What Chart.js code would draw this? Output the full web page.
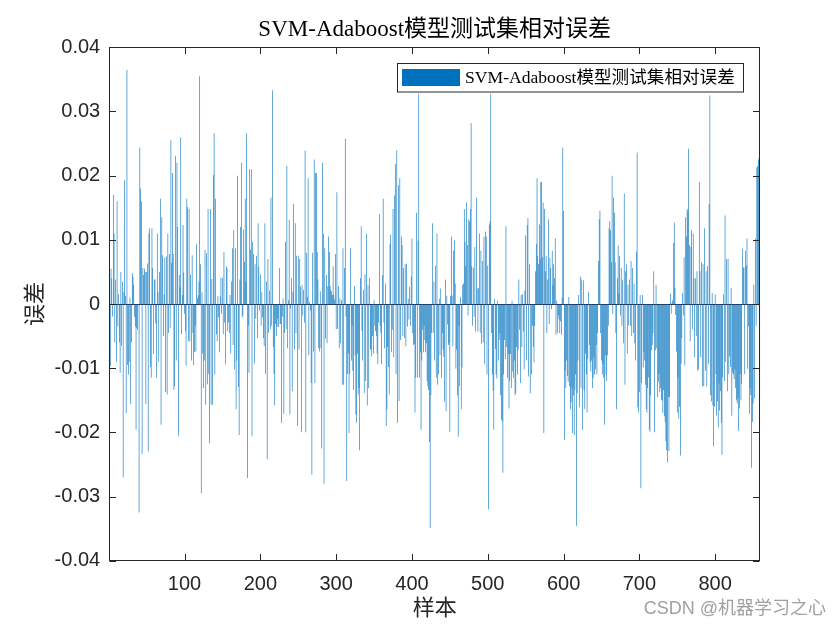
<!DOCTYPE html>
<html><head><meta charset="utf-8">
<script src="https://cdn.jsdelivr.net/npm/chart.js@4/dist/chart.umd.min.js"></script>
<style>html,body{margin:0;padding:0;background:#fff;}#wrap{width:840px;height:630px;}</style>
</head><body><div id="wrap"><canvas id="c" width="840" height="630"></canvas></div>
<script>
const titleText = 'SVM-Adaboost模型测试集相对误差';
const seriesName = 'SVM-Adaboost模型测试集相对误差';
const xAxisTitle = '样本';
const yAxisTitle = '误差';
const watermark = 'CSDN @机器学习之心';
const xTickValues = [100, 200, 300, 400, 500, 600, 700, 800];
const yTickValues = [-0.04, -0.03, -0.02, -0.01, 0, 0.01, 0.02, 0.03, 0.04];
const yTickLabels = ['-0.04', '-0.03', '-0.02', '-0.01', '0', '0.01', '0.02', '0.03', '0.04'];

// relative error of each test sample (samples 1..859)
const errSeg1 = [0.006,-0.0097,0.0055,0.004,-0.002,0.017,0.011,-0.006,0.0038,-0.009,0.016,-0.0035,0.0015,-0.006,-0.0107,0.005,-0.0065,0.0035,-0.027,0.0019,
0.0193,0.0013,-0.017,0.0365,-0.0095,-0.011,-0.009,0.001,-0.0156,-0.006,0.0048,0.0043,0.003,-0.002,-0.0035,-0.0196,-0.0037,-0.004,0.0,-0.0325,
0.0244,0.018,0.016,-0.0234,0.0056,0.0045,0.0055,0.005,-0.0156,0.005,0.0063,-0.023,0.011,0.0118,-0.0098,-0.0115,0.0118,0.0056,-0.0078,0.0038,
0.0038,-0.003,-0.0115,0.011,0.0019,-0.009,0.005];
const errSeg2 = [0.0164,-0.0188,0.0135,0.0076,-0.0050,0.0015,0.0072,-0.0137,0.0074,-0.0141,0.011,-0.0045,0.0078,-0.0037,0.0255,0.0064,0.0204,0.0078,-0.0134,-0.0128,
0.0231,-0.0088,0.022,0.012,-0.0206,0.0045,0.0026,0.026,-0.0047,0.0014,0.0123,0.0049,-0.0015,-0.0042,-0.0096,0.0164,0.0151,-0.0058,0.0148,-0.0058,
0.0046,-0.0088,0.0076,-0.0045,-0.0095,-0.0075,-0.0034,-0.0074,0.0093,0.0009,0.0014,0.0035,0.0355,0.0062,-0.0295,0.0019,-0.0077,-0.0131,-0.0088,0.0084,
-0.0157,0.0079,-0.0125,0.0148,-0.0109,-0.0217,0.0148,-0.0157,0.0039,-0.0157,0.0201,0.0266,-0.0110];
const errSeg3 = [0.0164,-0.0047,-0.0058,0.0012,-0.0021,-0.0075,0.0012,0.0041,-0.0015,0.0041,-0.0047,0.0081,-0.0029,-0.0094,0.0059,0.0056,-0.0042,-0.0029,-0.0045,0.0014,
-0.0077,0.0035,0.0087,-0.0064,0.0115,-0.0102,0.0087,-0.0164,-0.0088,0.020,-0.0129,-0.0204,0.0038,0.012,0.022,-0.0021,-0.0018,0.0116,0.0066,0.0164,
0.0035,0.0266,-0.0271,-0.0034,-0.0107,0.021,0.0085,0.021,-0.0206,0.0097,0.0078,-0.0093,0.0062,-0.0023,0.0075,-0.0053,0.0126,0.0058,-0.0010,0.0046,
-0.0034,0.0019,-0.0021,-0.0053,-0.0066,0.0126,-0.0109,0.0035,-0.0242,0.0070,-0.0045,0.0021,-0.0039];
const errSeg4 = [0.0166,-0.0034,0.0333,-0.0067,-0.0109,-0.0158,-0.0031,-0.0050,-0.0036,-0.0023,-0.0036,0.0056,-0.0031,-0.0031,-0.0185,-0.0020,0.0009,-0.0171,-0.0045,0.0097,
-0.0039,0.0215,-0.0069,0.0006,0.0131,-0.0172,-0.0007,0.0040,-0.0136,0.0019,0.0156,-0.0071,0.0126,-0.0045,0.0075,-0.0190,0.0075,-0.0071,0.0070,0.0027,
-0.0200,0.0030,-0.0018,0.0022,-0.0029,0.0239,-0.0200,0.0080,0.0011,0.0196,-0.0080,0.0003,-0.0010,-0.0123,-0.0266,0.0080,-0.0074,0.0225,-0.0123,0.0204,
0.0204,0.0081,0.0038,-0.0069,-0.0074,0.0020,-0.0069,-0.0225,0.0220,0.0110,-0.0280,0.0087,-0.0054];
const errSeg5 = [0.0045,-0.0061,0.0028,0.0105,0.0081,0.0028,0.0022,0.0019,0.0014,0.0059,0.0014,0.0007,0.0078,-0.0039,0.0174,-0.0039,0.0028,-0.0069,0.0009,-0.0061,
0.0006,-0.0126,0.0087,-0.0126,0.0056,0.0258,-0.0020,-0.0276,-0.0109,-0.0077,-0.0201,-0.0109,0.0087,-0.0088,-0.0034,-0.0104,-0.0134,0.0028,-0.0080,-0.0172,
-0.0185,-0.0077,-0.0141,-0.0131,-0.0228,0.0040,0.0121,-0.0042,-0.0088,0.0022,-0.0139,0.0046,-0.0120,0.0110,-0.0158,0.0030,-0.0131,0.0040,-0.0071,-0.0071,
-0.0082,-0.0050,-0.0077,0.0006,-0.0034,-0.0042,-0.0050,-0.0077,-0.0094,-0.0029,0.0140,-0.0034];
const errSeg6 = [-0.0045,-0.0094,0.0045,0.0164,-0.0029,-0.0069,0.0032,-0.0190,-0.0164,-0.0067,-0.0098,-0.0141,0.0094,0.0108,-0.0075,-0.0040,0.0148,-0.0083,0.0169,0.0218,
-0.0109,0.0239,-0.0185,0.0185,-0.0151,0.0196,-0.0056,0.0105,0.0092,-0.0050,0.0056,-0.0053,0.0062,-0.0066,0.0063,-0.0035,0.0008,-0.0024,0.0027,-0.0034,
0.0043,0.0102,-0.0045,-0.0064,-0.0062,-0.0169,-0.0115,0.0142,-0.0115,0.0099,0.0328,-0.0115,-0.0075,-0.0196,-0.0088,-0.0040,-0.0075,-0.0034,-0.0056,-0.0075,
-0.0061,-0.0120,-0.0128,-0.0134,-0.0215,-0.0349,-0.0142,-0.0045,0.0126,-0.0045,0.0035,-0.0088,0.0060];
const errSeg7 = [-0.0115,0.0110,-0.0126,-0.0110,0.0008,-0.0080,0.0024,-0.0115,-0.0045,-0.0071,-0.0082,-0.0152,0.0038,-0.0167,0.0013,-0.0032,-0.0064,-0.0061,-0.0199,0.0013,
0.0105,0.0013,-0.0066,0.0083,0.0099,0.0032,-0.0101,-0.0071,-0.0142,-0.0207,-0.0034,-0.0128,0.0011,-0.0164,-0.0099,0.0030,0.0032,0.0148,0.0097,0.0059,
0.0158,0.0092,-0.0018,0.0132,0.0129,0.0148,0.0282,0.0059,-0.0034,0.0056,-0.0020,0.0089,-0.0043,0.0166,0.0024,-0.0043,0.0025,0.0110,-0.0045,0.0083,
-0.0062,0.0067,-0.0060,0.0105,-0.0094,0.0113,0.0105,-0.0110,0.0060,-0.0320,0.0124,0.0129,0.0328];
const errSeg8 = [-0.0045,-0.0110,-0.0135,-0.0196,0.0008,-0.0070,-0.0110,-0.0116,0.0005,-0.0088,-0.0056,-0.0045,-0.0142,-0.0180,-0.0183,-0.0263,-0.0110,-0.0056,-0.0086,0.0121,
-0.0067,-0.0115,-0.0078,-0.0163,-0.0120,-0.0078,-0.0131,0.0005,-0.0105,-0.0115,-0.0088,-0.0142,-0.0139,-0.0067,-0.0110,-0.0072,0.0038,-0.0040,-0.0123,0.0014,
-0.0067,0.0015,-0.0043,-0.0102,0.0021,0.0107,-0.0088,0.0123,0.0134,-0.0113,0.0062,-0.0139,0.0000,-0.0110,-0.0034,-0.0067,-0.0091,-0.0034,0.0051,0.0094,
0.0196,0.0075,0.0062,0.0124,0.0070,0.0190,0.0190,0.0073,0.0158,-0.0201,0.0148,0.0051];
const errSeg9 = [0.0075,-0.0045,0.0038,0.0132,-0.0031,0.0072,0.0056,-0.0008,0.0083,0.0030,0.0062,0.0040,0.0102,-0.0048,0.0005,-0.0045,-0.0018,-0.0024,-0.0045,-0.0027,
-0.0048,0.0010,0.0244,0.0145,-0.0212,-0.0104,-0.0131,-0.0088,-0.0112,-0.0121,0.0011,-0.0128,-0.0164,-0.0153,-0.0131,-0.0201,-0.0142,-0.0204,-0.0134,-0.0110,
-0.0346,-0.0139,-0.0088,0.0014,-0.0161,0.0043,-0.0131,0.0038,-0.0196,0.0037,-0.0134,-0.0164,-0.0077,-0.0110,-0.0169,-0.0086,0.0019,-0.0064,-0.0091,-0.0105,
-0.0088,-0.0131,-0.0115,-0.0083,-0.0110,-0.0102,-0.0064,-0.0110,-0.0045,0.0067,0.0132,0.0145,-0.0045];
const errSeg10 = [-0.0088,-0.0110,-0.0094,-0.0115,-0.0188,-0.0080,-0.0110,-0.0120,-0.0080,-0.0034,0.0118,0.0129,0.0115,0.0065,0.0200,-0.0015,0.0166,0.0142,0.0065,-0.0045,
-0.0164,0.0040,0.0091,0.0016,0.0075,-0.0018,0.0056,-0.0034,0.0037,-0.0061,0.0172,-0.0126,0.0051,0.0062,-0.0077,0.0030,-0.0034,0.0038,-0.0034,0.0067,
-0.0050,0.0056,-0.0045,0.0032,-0.0061,-0.0088,0.0081,0.0236,-0.0161,-0.0169,-0.0137,0.0014,-0.0287,-0.0123,0.0014,-0.0099,-0.0075,-0.0088,-0.0126,-0.0164,
-0.0169,-0.0131,-0.0114,-0.0196,-0.0199,-0.0142,-0.0072,-0.0064,-0.0045,0.0051,-0.0200,-0.0072,0.0030];
const errSeg11 = [-0.0069,-0.0145,-0.0121,-0.0109,-0.0137,-0.0131,-0.0150,-0.0150,-0.0170,-0.0134,-0.0175,-0.0184,-0.0214,-0.0228,-0.0247,-0.0145,-0.0229,-0.0145,0.0016,-0.0015,
0.0002,0.0006,0.0095,0.0127,0.0025,-0.0017,-0.0074,-0.0169,-0.0115,-0.0179,-0.0160,-0.0236,-0.0093,-0.0053,0.0017,-0.0018,0.0073,-0.0096,0.0135,0.0105,
0.0148,0.0145,0.0242,0.0092,-0.0058,0.0089,0.0115,-0.0039,0.0110,0.0040,-0.0083,0.0040,-0.0050,0.0051,-0.0104,-0.0102,0.0190,0.0051,-0.0083,0.0065,
-0.0128,0.0062,-0.0128,0.0118,-0.0104,0.0051,-0.0128,0.0059,-0.0093,0.0156,0.0325,-0.0142,-0.0152,0.0017,-0.0158,-0.0222,-0.0160,0.0015,-0.0110,-0.0174,
-0.0152,-0.0192,-0.0124,-0.0166,-0.0136,-0.0185,-0.0235,-0.0114,0.0015,-0.0120,0.0138,-0.0090,0.0070,-0.0136,0.0070,-0.0109,-0.0082,-0.0098,0.0025,-0.0174,
-0.0107,-0.0110,-0.0117,-0.0102,-0.0131,-0.0150,-0.0155,-0.0147,-0.0198,-0.0163,-0.0109,-0.0150,-0.0125,0.0086,0.0057,0.0057,-0.0109,0.0083,0.0060,0.0102,
-0.0101,-0.0035,-0.0171,-0.0131,-0.0142,-0.0255,-0.0184,-0.0155,0.0030,-0.0147,0.0102,-0.0034,0.0213,0.0215,0.0225,0.0228,-0.0142];

const errors = [].concat(errSeg1, errSeg2, errSeg3, errSeg4, errSeg5, errSeg6, errSeg7, errSeg8, errSeg9, errSeg10, errSeg11);
const sampleIndex = errors.map((_, i) => i + 1);

const tickFont = { family: "'Liberation Sans', Arial, sans-serif", size: 20 };
const serifCJK = "'Liberation Serif', 'Times New Roman', 'Noto Sans CJK SC', serif";

const deco = {
  id: 'deco',
  afterDatasetsDraw(chart) {
    const { ctx, chartArea: a, scales: { x, y } } = chart;
    const L = Math.round(a.left) + 0.5, R = Math.round(a.right) - 0.5;
    const T = Math.round(a.top) + 0.5, B = Math.round(a.bottom) - 0.5;
    ctx.save();
    const y0 = Math.round(y.getPixelForValue(0)) + 0.5;
    ctx.strokeStyle = '#1f3f66'; ctx.lineWidth = 1;
    ctx.beginPath(); ctx.moveTo(L, y0); ctx.lineTo(R, y0); ctx.stroke();
    ctx.strokeStyle = '#262626'; ctx.lineWidth = 1;
    ctx.strokeRect(L, T, R - L, B - T);
    const tl = 6.5;
    ctx.beginPath();
    xTickValues.forEach(v => {
      const px = Math.round(x.getPixelForValue(v)) + 0.5;
      ctx.moveTo(px, B); ctx.lineTo(px, B - tl);
      ctx.moveTo(px, T); ctx.lineTo(px, T + tl);
    });
    yTickValues.forEach(v => {
      const py = Math.round(y.getPixelForValue(v)) + 0.5;
      ctx.moveTo(L, py); ctx.lineTo(L + tl, py);
      ctx.moveTo(R, py); ctx.lineTo(R - tl, py);
    });
    ctx.stroke();
    const cx = (a.left + a.right) / 2;
    ctx.fillStyle = '#000';
    ctx.font = '23px ' + serifCJK;
    ctx.textAlign = 'center'; ctx.textBaseline = 'middle';
    ctx.fillText(titleText, cx, 30);
    ctx.fillStyle = '#262626';
    ctx.font = '22px ' + serifCJK;
    ctx.fillText(xAxisTitle, cx, 609);
    ctx.save();
    ctx.translate(36, (a.top + a.bottom) / 2);
    ctx.rotate(-Math.PI / 2);
    ctx.fillText(yAxisTitle, 0, 0);
    ctx.restore();
    const lx = 397.5, ly = 63.5, lw = 346, lh = 28.5;
    ctx.fillStyle = '#fff';
    ctx.fillRect(lx, ly, lw, lh);
    ctx.strokeStyle = '#262626'; ctx.lineWidth = 1;
    ctx.strokeRect(lx, ly, lw, lh);
    ctx.fillStyle = chart.data.datasets[0].backgroundColor;
    ctx.fillRect(402, 69, 58, 17);
    ctx.fillStyle = '#000';
    ctx.font = '17.6px ' + serifCJK;
    ctx.textAlign = 'left'; ctx.textBaseline = 'middle';
    ctx.fillText(chart.data.datasets[0].label, 465, 78);
    ctx.fillStyle = '#a0a0a0';
    ctx.font = "18px 'Liberation Sans', 'Noto Sans CJK SC', sans-serif";
    ctx.textAlign = 'right';
    ctx.fillText(watermark, 826, 609);
    ctx.restore();
  }
};

new Chart(document.getElementById('c').getContext('2d'), {
  type: 'bar',
  data: {
    datasets: [{
      label: seriesName,
      data: sampleIndex.map((xv, i) => ({ x: xv, y: errors[i] })),
      backgroundColor: '#0072BD',
      borderWidth: 0,
      barPercentage: 0.8,
      categoryPercentage: 1.0
    }]
  },
  options: {
    responsive: false,
    animation: false,
    devicePixelRatio: 1,
    layout: { padding: { top: 47.3, right: 79.8, left: 0, bottom: 0 } },
    plugins: { legend: { display: false }, title: { display: false }, tooltip: { enabled: false } },
    scales: {
      x: {
        type: 'linear', min: 0.6, max: 859.4, offset: false, bounds: 'ticks',
        grid: { display: false, offset: false }, border: { display: false },
        afterBuildTicks: s => { s.ticks = xTickValues.map(v => ({ value: v })); },
        afterFit: s => { s.height = 630 - 560.7; },
        ticks: { font: tickFont, color: '#262626', padding: 4, maxRotation: 0, autoSkip: false }
      },
      y: {
        type: 'linear', min: -0.04, max: 0.04,
        grid: { display: false }, border: { display: false },
        afterBuildTicks: s => { s.ticks = yTickValues.map(v => ({ value: v })); },
        afterFit: s => { s.width = 109.2; },
        ticks: {
          font: tickFont, color: '#262626', padding: 1,
          callback: (v) => { const k = yTickValues.findIndex(t => Math.abs(t - v) < 1e-9); return k >= 0 ? yTickLabels[k] : ''; }
        }
      }
    }
  },
  plugins: [deco]
});
</script>
</body></html>
